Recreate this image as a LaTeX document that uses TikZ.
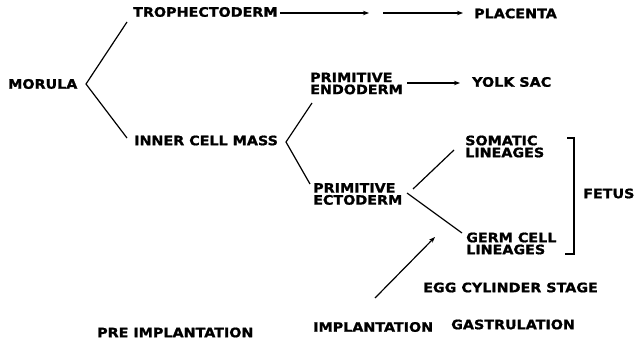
\documentclass[tikz,border=0pt]{standalone}
\usepackage{fontspec}
\setmainfont{DejaVu Sans}[FakeStretch=1.1, BoldFeatures={FakeBold=1.2, FakeStretch=1.1}]
\usetikzlibrary{arrows.meta}
\tikzset{
  lbl/.style={inner sep=0pt, anchor=west, align=left, font=\bfseries\fontsize{13}{12}\selectfont},
  ln/.style={line width=1.2pt, black},
  arr/.style={ln, -{Stealth[length=6pt,width=4.5pt]}}
}
\begin{document}
\begin{tikzpicture}[x=1pt,y=-1pt]
\useasboundingbox (0,0) rectangle (637,340);
% text nodes
\node[lbl] (mor) at (8,84) {MORULA};
\node[lbl] (tro) at (133,12) {TROPHECTODERM};
\node[lbl] (pla) at (474,13.5) {PLACENTA};
\node[lbl] (icm) at (134,140.5) {INNER CELL MASS};
\node[lbl] (pen) at (310,83.5) {PRIMITIVE\\ENDODERM};
\node[lbl] (yolk) at (472,82) {YOLK SAC};
\node[lbl] (som) at (465,146.5) {SOMATIC\\LINEAGES};
\node[lbl] (pec) at (313,194) {PRIMITIVE\\ECTODERM};
\node[lbl] (germ) at (466,243.5) {GERM CELL\\LINEAGES};
\node[lbl] (fet) at (583,193.5) {FETUS};
\node[lbl] (egg) at (423,287.5) {EGG CYLINDER STAGE};
\node[lbl] (imp) at (313,327) {IMPLANTATION};
\node[lbl] (gas) at (451,324.5) {GASTRULATION};
\node[lbl] (pre) at (97,332.5) {PRE IMPLANTATION};
% helper coordinates
\coordinate (mT) at (127,22);
\coordinate (mV) at (86,84);
\coordinate (mB) at (127,138);
\coordinate (iT) at (312,103);
\coordinate (iV) at (286,142);
\coordinate (iB) at (310,184);
\coordinate (t1) at (369,13);
\coordinate (t2) at (383,13);
\coordinate (t3) at (463,13);
\coordinate (e1) at (407,83);
\coordinate (e2) at (460,83);
\coordinate (sA) at (413,189);
\coordinate (sB) at (454,150);
\coordinate (gA) at (407,193);
\coordinate (gB) at (462,233);
\coordinate (bT) at (567,138);
\coordinate (bTR) at (574,138);
\coordinate (bBR) at (574,254);
\coordinate (bB) at (565,254);
\coordinate (a1) at (375,298);
\coordinate (a2) at (435,237);
% connectors
\draw[ln] (mT) -- (mV) -- (mB);
\draw[ln] (iT) -- (iV) -- (iB);
\draw[arr] (tro.east) ++(2,1) -- (t1);
\draw[arr] (t2) -- (t3);
\draw[arr] (e1) -- (e2);
\draw[ln] (sA) -- (sB);
\draw[ln] (gA) -- (gB);
\draw[ln] (bT) -- (bTR) -- (bBR) -- (bB);
\draw[arr] (a1) -- (a2);
\end{tikzpicture}
\end{document}
